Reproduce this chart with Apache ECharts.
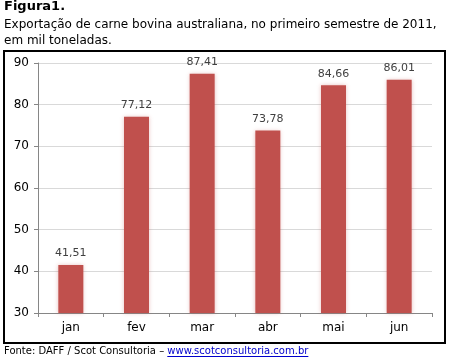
<!DOCTYPE html>
<html><head><meta charset="utf-8">
<script src="https://cdn.jsdelivr.net/npm/echarts@6/dist/echarts.min.js"></script>
<style>html,body{margin:0;padding:0;background:#fff}#c{width:449px;height:358px}</style>
</head><body><div id="c"></div>
<script>
const categories = ['jan','fev','mar','abr','mai','jun'];
const values = [41.51, 77.12, 87.41, 73.78, 84.66, 86.01];
const yTicks = [30, 40, 50, 60, 70, 80, 90];
const titleLines = ['Figura1.', 'Exportação de carne bovina australiana, no primeiro semestre de 2011,', 'em mil toneladas.'];
const sourceText = 'Fonte: DAFF / Scot Consultoria – ';
const sourceLink = 'www.scotconsultoria.com.br';

const font = 'Verdana, "DejaVu Sans", sans-serif';
const footFont = '10px ' + font;
const cv = document.createElement('canvas').getContext('2d');
cv.font = footFont;
const wA = cv.measureText(sourceText).width;
const wB = cv.measureText(sourceLink).width;
const footX = 4, footY = 346;

const chart = echarts.init(document.getElementById('c'));
chart.setOption({
  animation: false,
  backgroundColor: '#fff',
  grid: {left: 38, right: 17, top: 63, bottom: 45},
  xAxis: {
    type: 'category', data: categories,
    axisLine: {lineStyle: {color: '#868686'}},
    axisTick: {show: true, length: 4, lineStyle: {color: '#868686'}},
    axisLabel: {fontFamily: font, fontSize: 12, color: '#000', margin: 9}
  },
  yAxis: {
    type: 'value', min: yTicks[0], max: yTicks[yTicks.length-1], interval: 10,
    axisLine: {show: true, lineStyle: {color: '#868686'}},
    axisTick: {show: true, length: 4, lineStyle: {color: '#868686'}},
    splitLine: {lineStyle: {color: '#d9d9d9'}},
    axisLabel: {fontFamily: font, fontSize: 12, color: '#000', margin: 9}
  },
  series: [{
    type: 'bar', data: values, barWidth: 25,
    itemStyle: {color: '#C0504D', shadowColor: 'rgba(192,80,77,0.35)', shadowBlur: 4},
    label: {show: true, position: 'top', distance: 6, fontFamily: font, fontSize: 11, color: '#404040',
      formatter: p => p.value.toFixed(2).replace('.', ',')}
  }],
  graphic: [
    {type: 'rect', shape: {x: 4, y: 51, width: 441, height: 292}, style: {fill: 'none', stroke: '#000', lineWidth: 2}, z: 10},
    {type: 'text', left: 4, top: 0, style: {text: titleLines[0], font: 'bold 13px ' + font, fill: '#000'}},
    {type: 'text', left: 4, top: 19, style: {text: titleLines[1], font: '12px ' + font, fill: '#000'}},
    {type: 'text', left: 4, top: 35, style: {text: titleLines[2], font: '12px ' + font, fill: '#000'}},
    {type: 'text', left: footX, top: footY, style: {text: sourceText, font: footFont, fill: '#000'}},
    {type: 'text', left: footX + wA, top: footY, style: {text: sourceLink, font: footFont, fill: '#0000CC'}},
    {type: 'line', shape: {x1: footX + wA, y1: footY + 10.5, x2: footX + wA + wB, y2: footY + 10.5}, style: {stroke: '#0000CC', lineWidth: 1}}
  ]
});
</script></body></html>
